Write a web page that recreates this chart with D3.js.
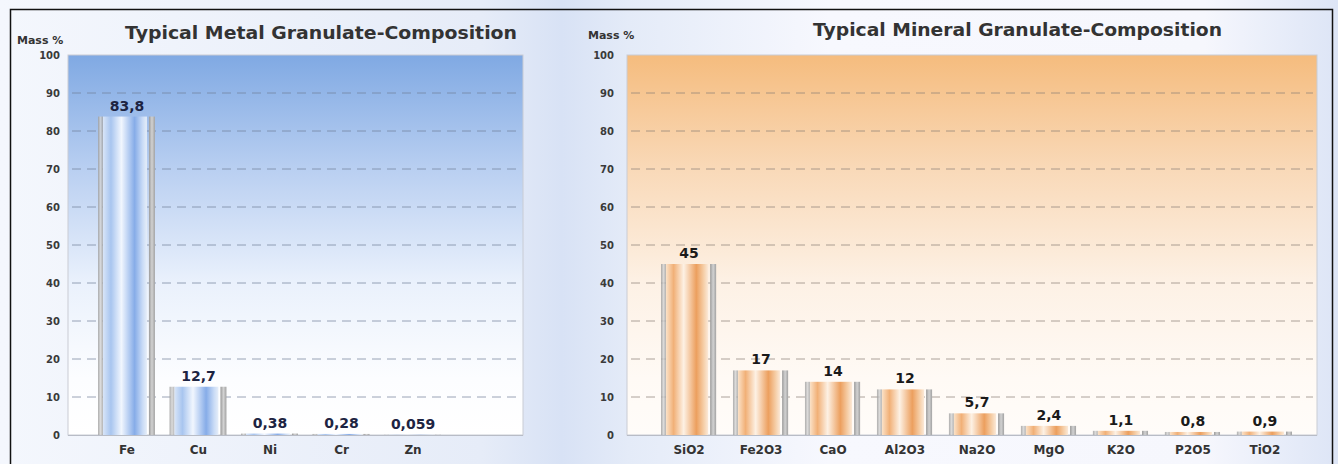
<!DOCTYPE html>
<html>
<head>
<meta charset="utf-8">
<script src="https://cdn.jsdelivr.net/npm/d3@7"></script>
<style>
  html, body { margin: 0; padding: 0; background: #ffffff; }
  svg { display: block; }
  text { font-family: "DejaVu Sans", "Liberation Sans", Arial, sans-serif; font-weight: bold; }
</style>
</head>
<body>
<svg id="chart" width="1338" height="464"></svg>
<script>
// ---- data ----
const metalCategories = ["Fe", "Cu", "Ni", "Cr", "Zn"];
const metalValues = [83.8, 12.7, 0.38, 0.28, 0.059];
const mineralCategories = ["SiO2", "Fe2O3", "CaO", "Al2O3", "Na2O", "MgO", "K2O", "P2O5", "TiO2"];
const mineralValues = [45, 17, 14, 12, 5.7, 2.4, 1.1, 0.8, 0.9];
const yTicks = [0, 10, 20, 30, 40, 50, 60, 70, 80, 90, 100];
const titles = ["Typical Metal Granulate-Composition", "Typical Mineral Granulate-Composition"];
const yAxisLabel = "Mass %";

const fmt = v => String(v).replace(".", ",");
const FONT = "DejaVu Sans, Liberation Sans, Arial, sans-serif";

const svg = d3.select("#chart");
const W = 1338, H = 464;
const defs = svg.append("defs");

function linGrad(id, stops, horizontal) {
  const g = defs.append("linearGradient").attr("id", id)
    .attr("x1", 0).attr("y1", 0)
    .attr("x2", horizontal ? 1 : 0).attr("y2", horizontal ? 0 : 1);
  stops.forEach(([o, c]) => g.append("stop").attr("offset", o).attr("stop-color", c));
}

// page background
linGrad("pageBg", [[0, "#f4f7fd"], [0.36, "#e6ecf8"], [0.42, "#d8e2f5"], [0.47, "#e4ebf8"], [0.62, "#f7f8fe"], [0.9, "#f6f7fd"], [1, "#dde5f6"]], true);
// plot backgrounds
linGrad("blueBg", [[0, "#80a9e3"], [0.3, "#b9cff1"], [0.6, "#eaf1fc"], [0.85, "#fcfdff"], [1, "#ffffff"]], false);
linGrad("orangeBg", [[0, "#f5bc7e"], [0.3, "#f9d9b8"], [0.6, "#fdf1e5"], [0.85, "#fffaf5"], [1, "#fffcf9"]], false);
// bar bodies
linGrad("blueBar", [[0, "#d8e5f8"], [0.18, "#a8c5ef"], [0.42, "#f1f6fe"], [0.72, "#86ace8"], [0.9, "#c9dbf6"], [1, "#e6eef9"]], true);
linGrad("orangeBar", [[0, "#fbe2c8"], [0.18, "#f1b077"], [0.42, "#fdf1e4"], [0.72, "#ec9f5e"], [0.9, "#f6d0aa"], [1, "#fbe9d8"]], true);
linGrad("greyStrip", [[0, "#9a9a9a"], [0.5, "#d2d2d2"], [1, "#a2a2a2"]], true);

svg.append("rect").attr("width", W).attr("height", H).attr("fill", "url(#pageBg)");

// outer frame (top, left, right)
svg.append("path")
  .attr("d", `M10.5,${H} V9.5 H1332.5 V${H}`)
  .attr("fill", "none").attr("stroke", "#111").attr("stroke-width", 1.5);

const y = d3.scaleLinear().domain([0, 100]).range([435, 55]);

function panel(cfg) {
  const g = svg.append("g");
  const x = d3.scaleBand().domain(cfg.categories).range(cfg.bandRange)
    .paddingInner(cfg.pad).paddingOuter(0);

  // plot background
  g.append("rect")
    .attr("x", cfg.plotX0).attr("y", y(100))
    .attr("width", cfg.plotX1 - cfg.plotX0).attr("height", y(0) - y(100))
    .attr("fill", `url(#${cfg.bg})`)
    .attr("stroke", "#c9ccd4").attr("stroke-width", 1);

  // dashed gridlines
  g.selectAll("line.grid").data(yTicks.filter(t => t > 0 && t < 100)).join("line")
    .attr("class", "grid")
    .attr("x1", cfg.plotX0 + 4).attr("x2", cfg.plotX1 - 4)
    .attr("y1", d => y(d)).attr("y2", d => y(d))
    .attr("stroke", cfg.gridColor).attr("stroke-width", 1).attr("stroke-opacity", 0.7)
    .attr("stroke-dasharray", "9,6");

  // baseline
  g.append("line")
    .attr("x1", cfg.plotX0).attr("x2", cfg.plotX1)
    .attr("y1", y(0) + 0.5).attr("y2", y(0) + 0.5)
    .attr("stroke", "#b8bcc6").attr("stroke-width", 1);

  // y axis labels
  const axis = d3.axisLeft(y).tickValues(yTicks).tickSize(0).tickPadding(0).tickFormat(d3.format("d"));
  const ax = g.append("g").attr("transform", `translate(${cfg.tickX},0)`).call(axis);
  ax.select(".domain").remove();
  ax.selectAll("text")
    .attr("font-family", FONT)
    .attr("font-weight", "bold").attr("font-size", 10).attr("fill", "#3a3a3a");

  // x axis labels
  const xa = d3.axisBottom(x).tickSize(0).tickPadding(0);
  const xg = g.append("g").attr("transform", `translate(0,${y(0) + 10})`).call(xa);
  xg.select(".domain").remove();
  xg.selectAll("text")
    .attr("font-family", FONT)
    .attr("font-weight", "bold").attr("font-size", 12).attr("fill", "#333");

  // bars: grey side strips around a cylindrical body
  const data = cfg.categories.map((c, i) => ({ c, v: cfg.values[i] }));
  const bw = x.bandwidth();
  const bars = g.selectAll("g.bar").data(data).join("g").attr("class", "bar");
  bars.append("rect")
    .attr("x", d => x(d.c)).attr("width", 5)
    .attr("y", d => y(d.v)).attr("height", d => y(0) - y(d.v))
    .attr("fill", "url(#greyStrip)").attr("opacity", 0.8);
  bars.append("rect")
    .attr("x", d => x(d.c) + 5).attr("width", bw - 14)
    .attr("y", d => y(d.v)).attr("height", d => y(0) - y(d.v))
    .attr("fill", `url(#${cfg.barFill})`);
  bars.append("rect")
    .attr("x", d => x(d.c) + bw - 7).attr("width", 6)
    .attr("y", d => y(d.v)).attr("height", d => y(0) - y(d.v))
    .attr("fill", "url(#greyStrip)");

  // value labels
  g.selectAll("text.val").data(data).join("text")
    .attr("class", "val")
    .attr("x", d => x(d.c) + bw / 2)
    .attr("y", d => y(d.v) - cfg.labelGap)
    .attr("text-anchor", "middle")
    .attr("font-family", FONT)
    .attr("font-size", 14).attr("fill", cfg.valColor)
    .text(d => fmt(d.v));

  // axis caption and title
  g.append("text").attr("x", cfg.massX).attr("y", cfg.massY)
    .attr("font-size", 11).attr("fill", "#333").text(yAxisLabel);
  g.append("text").attr("x", cfg.titleX0).attr("y", cfg.titleY)
    .attr("font-size", 17).attr("fill", "#333")
    .attr("textLength", cfg.titleLen).attr("lengthAdjust", "spacingAndGlyphs")
    .text(cfg.title);
}

panel({
  categories: metalCategories, values: metalValues,
  bandRange: [98, 442], pad: 0.19,
  plotX0: 68, plotX1: 523, tickX: 60,
  bg: "blueBg", barFill: "blueBar", gridColor: "#6f7d99",
  valColor: "#1d2442", labelGap: 6,
  massX: 17, massY: 44, titleX0: 125, titleY: 39, titleLen: 392, title: titles[0]
});

panel({
  categories: mineralCategories, values: mineralValues,
  bandRange: [661, 1293], pad: 0.22,
  plotX0: 627, plotX1: 1317, tickX: 614,
  bg: "orangeBg", barFill: "orangeBar", gridColor: "#8a7f76",
  valColor: "#1a1a1a", labelGap: 6,
  massX: 588, massY: 39, titleX0: 813, titleY: 36, titleLen: 409, title: titles[1]
});
</script>
</body>
</html>
